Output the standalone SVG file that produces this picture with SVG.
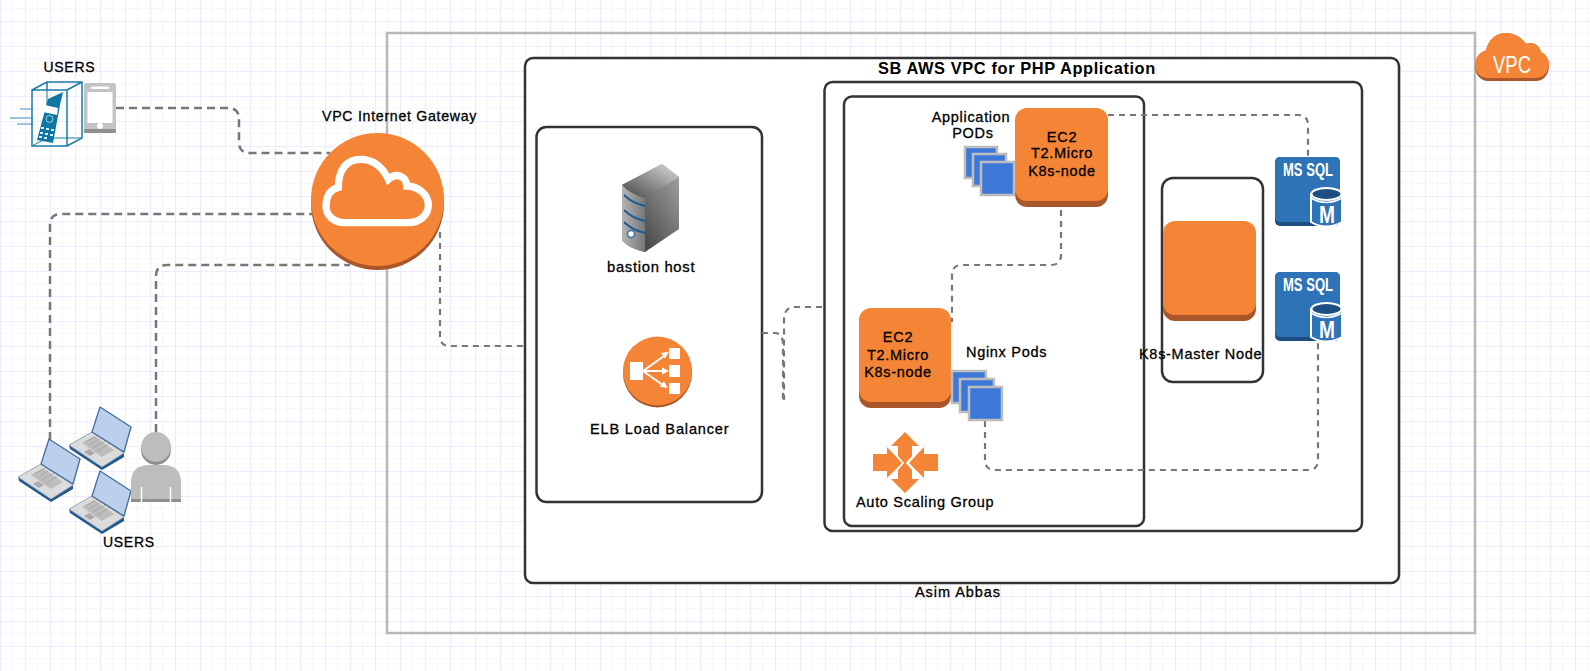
<svg xmlns="http://www.w3.org/2000/svg" width="1590" height="671" viewBox="0 0 1590 671">
<style>
.t{font-family:"Liberation Sans",Arial,sans-serif;font-size:14.500px;letter-spacing:.7px;fill:#000;stroke:#000;stroke-width:.3px}
.u{font-size:14px}
.g{font-size:14.200px}
.b{font-size:14.800px}
.m{text-anchor:middle}
.box{fill:#fff;stroke:#333;stroke-width:2.500}
.open{fill:none;stroke:#333;stroke-width:2.500}
.c1{fill:none;stroke:#777;stroke-width:2.500;stroke-dasharray:8 5}
.c2{fill:none;stroke:#777;stroke-width:2.200;stroke-dasharray:6 5}
.o{fill:#f58536}.os{fill:#a9572a}
.pod{fill:#3c78d8;stroke:#bcbcbc;stroke-width:2.500}
.sq{fill:#2e73b8}.sqs{fill:#1e4f82}
.w{font-family:"Liberation Sans",Arial,sans-serif;font-weight:bold;fill:#fff}
</style>
<defs>
<pattern id="grid" width="25" height="25" patternUnits="userSpaceOnUse" patternTransform="translate(0 21)">
<path d="M12.500 0V25M0 12.500H25" stroke="#f7f6ff" stroke-width="1.200" fill="none"/>
<path d="M.5 0V25M0 .5H25" stroke="#eeebff" stroke-width="1.200" fill="none"/>
</pattern>
<linearGradient id="srvF" x1="0" x2="1" y1="0" y2="0"><stop offset="0" stop-color="#b5b5b5"/><stop offset="1" stop-color="#777"/></linearGradient>
<linearGradient id="srvS" x1="0" x2="1" y1="1" y2="0"><stop offset="0" stop-color="#2c2c2c"/><stop offset="1" stop-color="#a8a8a8"/></linearGradient>
<linearGradient id="srvT" x1="0" x2="1" y1="1" y2="0"><stop offset="0" stop-color="#444"/><stop offset="1" stop-color="#ddd"/></linearGradient>
<g id="laptop">
<path d="M0 38 23 25 55 46V50L33 63 1 42Z" fill="#1f5a8c"/>
<path d="M0 38 23 25 55 46 33 60Z" fill="#dcdcdc" stroke="#9aa5ae" stroke-width=".8"/>
<path d="M13 36 25 29 45 43 33 50Z" fill="#bdbdbd"/>
<path d="M16 35 28 29M20 38 32 31M24 41 36 34M28 44 40 37" stroke="#8f8f8f" stroke-width=".8" stroke-dasharray="1.500 1"/>
<path d="M15 45 20 42 26 46 21 49Z" fill="#ababab"/>
<path d="M31 0 62 20 55 45 23 25Z" fill="#bccfec" stroke="#3f6f9f" stroke-width="1.300" stroke-linejoin="round"/>
</g>
<g id="sql">
<rect x="0" y="0" width="65" height="69" rx="5" class="sqs"/>
<rect x="0" y="0" width="65" height="65" rx="5" class="sq"/>
<text x="33" y="19" text-anchor="middle" class="w" font-size="18" textLength="50" lengthAdjust="spacingAndGlyphs">MS SQL</text>
<path d="M36 37V65Q51 74 67 65V37Z" fill="#2e73b8" stroke="#fff" stroke-width="2"/>
<ellipse cx="51.500" cy="37" rx="15" ry="6" fill="#1e4f82" stroke="#fff" stroke-width="2"/>
<path d="M36 41Q51 50 67 41" fill="none" stroke="#fff" stroke-width="1.500"/>
<text x="52" y="66" text-anchor="middle" class="w" font-size="23" textLength="16" lengthAdjust="spacingAndGlyphs">M</text>
</g>
<path id="arrowhead" d="M0 0 7 3.500 0 7Z" fill="#fff"/>
</defs>
<rect width="1590" height="671" fill="#fff"/>
<rect width="1590" height="671" fill="url(#grid)"/>

<g id="vpc-frame"><rect x="387" y="33" width="1088" height="600" fill="none" stroke="#b8b8b8" stroke-width="2.500"/></g>
<g id="vpc-main"><rect x="525" y="58" width="874" height="525" rx="8" class="box"/></g>
<g id="elb-box"><rect x="536.500" y="127" width="225.500" height="375" rx="10" class="box"/></g>
<g id="k8s-box"><rect x="824.500" y="82" width="537.500" height="449" rx="8" class="open"/></g>
<g id="asg-box"><rect x="844" y="96.500" width="300" height="429.500" rx="8" class="open"/></g>
<g id="master-box"><rect x="1162" y="178" width="101" height="204" rx="11" class="open"/></g>

<g id="connectors">
<path class="c1" d="M116 108H228Q239 108 239 119V142Q239 153 250 153H330"/>
<path class="c1" d="M50 440V225Q50 214 61 214H314"/>
<path class="c1" d="M156 432V276Q156 265 167 265H350"/>
<path class="c2" d="M440 232V336Q440 346 450 346H524"/>
<path class="c2" d="M762 333H775Q783 333 783 345V400"/>
<path class="c2" d="M822 307H795Q784 307 784 320V400"/>
<path class="c2" d="M1108 115H1298Q1308 115 1308 125V157"/>
<path class="c2" d="M1061 210V255Q1061 265 1051 265H962Q952 265 952 275V322"/>
<path class="c2" d="M985 421V460Q985 470 995 470H1308Q1318 470 1318 460V343"/>
</g>

<g id="users-phone">
<g fill="none" stroke="#7fb2cf" stroke-width="1.500"><path d="M20 109H33M10 118H33M17 124H33"/></g>
<path d="M32 90 47 82H82V138L67 146H32ZM32 90H67V146M67 90 82 82M47 82V90" fill="none" stroke="#1a7ba8" stroke-width="1.500"/>
<path d="M32 146 47 138H82M47 90V138" fill="none" stroke="#1a7ba8" stroke-width="1"/>
<path d="M48 99 61 93 63 92 60 105 53 143 37 140Z" fill="#0f76a3"/>
<path d="M45 105 58 108 57 115 43 112Z" fill="#fff"/>
<circle cx="49.500" cy="119" r="3.500" fill="none" stroke="#9fd0e6"/>
<g fill="#d8ecf6"><rect x="41" y="127" width="3" height="2"/><rect x="46" y="128" width="3" height="2"/><rect x="51" y="129" width="3" height="2"/><rect x="40" y="132" width="3" height="2"/><rect x="45" y="133" width="3" height="2"/><rect x="50" y="134" width="3" height="2"/><rect x="39" y="136" width="3" height="2"/><rect x="44" y="137" width="3" height="2"/></g>
<rect x="84" y="83" width="32" height="50" rx="3" fill="#c4c4c4"/>
<rect x="84" y="129" width="32" height="4" rx="1" fill="#8f8f8f"/>
<rect x="87.500" y="92" width="25" height="31" fill="#fff"/>
<rect x="91" y="86.500" width="18" height="2.500" rx="1.200" fill="#fff"/>
<circle cx="100" cy="126" r="3" fill="#fff"/>
<text class="t u" x="43.500" y="72">USERS</text>
</g>

<g id="users-laptops">
<use href="#laptop" x="69" y="407"/>
<use href="#laptop" x="18" y="439"/>
<use href="#laptop" x="69" y="471"/>
<circle cx="156" cy="450" r="15" fill="#8e8e8e"/>
<circle cx="156" cy="447" r="15" fill="#bdbdbd"/>
<path d="M131 502V483Q131 465 149 465H163Q181 465 181 483V502Z" fill="#bdbdbd"/>
<rect x="131" y="499" width="50" height="3" fill="#8e8e8e"/>
<path d="M141.500 487V502M170.500 487V502" stroke="#fff" stroke-width="1.500"/>
<text class="t u" x="103" y="547">USERS</text>
</g>

<g id="internet-gateway">
<circle cx="377.500" cy="203.500" r="66.500" class="os"/>
<circle cx="377.500" cy="199.500" r="66.500" class="o"/>
<path transform="translate(290 100) scale(.3333)" d="M165 368H355C395 368 415 340 415 315C415 285 385 258 350 258C350 230 320 215 295 238C275 195 245 178 210 178C170 178 145 210 145 262C120 268 108 290 108 318C108 345 130 368 165 368Z" fill="none" stroke="#fff" stroke-width="22"/>
<text class="t g" x="322" y="121">VPC Internet Gateway</text>
</g>

<g id="bastion-host">
<path d="M622 185 662 164 679 177V229L645 252Q628 248 622 240Z" fill="url(#srvS)"/>
<path d="M622 185 662 164 679 177 645 198Q630 194 622 185Z" fill="url(#srvT)"/>
<path d="M622 185Q630 194 645 198V252Q628 248 622 240Z" fill="url(#srvF)"/>
<path d="M624 195Q632 203 645 206M624 210Q632 218 645 221M624 222Q632 230 645 233" fill="none" stroke="#1d5a94" stroke-width="1.800"/>
<circle cx="631" cy="234" r="3.500" fill="#fff" stroke="#3f6f9f" stroke-width="1.500"/>
<text class="t b" x="607" y="272">bastion host</text>
</g>

<g id="elb">
<circle cx="657.500" cy="373" r="34.500" class="os"/>
<circle cx="657.500" cy="371" r="34.500" class="o"/>
<rect x="630" y="362" width="13" height="18" fill="#fff"/>
<rect x="669" y="348" width="11" height="11" fill="#fff"/>
<rect x="669" y="365" width="11" height="12" fill="#fff"/>
<rect x="669" y="383" width="11" height="11" fill="#fff"/>
<path d="M643 371 664 356M643 371H664M643 371 664 386" stroke="#fff" stroke-width="2"/>
<use href="#arrowhead" transform="translate(661 350) rotate(-35 3.500 3.500) translate(1 1)"/>
<use href="#arrowhead" transform="translate(662 367.500)"/>
<use href="#arrowhead" transform="translate(661 381) rotate(35 3.500 3.500) translate(1 1)"/>
<text class="t" x="590" y="434" style="letter-spacing:.85px">ELB Load Balancer</text>
</g>

<g id="ec2-top">
<rect x="1015" y="114" width="93" height="93" rx="12" class="os"/>
<rect x="1015" y="108" width="93" height="93" rx="12" class="o"/>
<text class="t m" x="1062" y="142">EC2</text>
<text class="t m" x="1062" y="158">T2.Micro</text>
<text class="t m" x="1062" y="176">K8s-node</text>
</g>
<g id="app-pods">
<rect x="965" y="147" width="32" height="31" class="pod"/>
<rect x="973" y="154" width="33" height="32" class="pod"/>
<rect x="981" y="162" width="33" height="33" class="pod"/>
<text class="t m" x="971" y="122">Application</text>
<text class="t m" x="973" y="138">PODs</text>
</g>

<g id="ec2-bottom">
<rect x="859" y="314" width="92" height="94" rx="12" class="os"/>
<rect x="859" y="308" width="92" height="94" rx="12" class="o"/>
<text class="t m" x="898" y="342">EC2</text>
<text class="t m" x="898" y="360">T2.Micro</text>
<text class="t m" x="898" y="377">K8s-node</text>
</g>
<g id="nginx-pods">
<rect x="952" y="371" width="34" height="32" class="pod"/>
<rect x="960" y="379" width="34" height="33" class="pod"/>
<rect x="969" y="387" width="33" height="33" class="pod"/>
<text class="t" x="966" y="357">Nginx Pods</text>
</g>

<g id="auto-scaling">
<g class="o">
<path d="M905 432 919 446H912V456L905 464 898 456V446H891Z"/>
<path d="M905 493 919 479H912V470L905 462 898 470V479H891Z"/>
<path d="M873 454H887V447L902 463 887 478V471H873Z"/>
<path d="M938 454H924V447L909 463 924 478V471H938Z"/>
</g>
<text class="t" x="856" y="507">Auto Scaling Group</text>
</g>

<g id="k8s-master">
<rect x="1163" y="227" width="93" height="94" rx="12" class="os"/>
<rect x="1163" y="221" width="93" height="94" rx="12" class="o"/>
<text class="t" x="1139" y="359">K8s-Master Node</text>
</g>

<g id="ms-sql-1"><use href="#sql" x="1275" y="157"/></g>
<g id="ms-sql-2"><use href="#sql" x="1275" y="272"/></g>

<g id="vpc-badge">
<path d="M1488 81C1480 81 1475 74 1475 66C1475 58 1480 53 1486 51C1488 40 1496 33 1506 33C1515 33 1522 38 1526 44C1533 41 1539 45 1541 52C1546 55 1549 60 1549 66C1549 75 1543 81 1536 81Z" class="os"/>
<path d="M1488 78C1480 78 1475 72 1475 64C1475 57 1480 52 1486 50C1488 40 1496 33 1506 33C1515 33 1522 38 1526 44C1533 41 1539 45 1541 52C1546 54 1549 59 1549 64C1549 72 1543 78 1536 78Z" class="o"/>
<text x="1493" y="73" font-family="'Liberation Sans',Arial,sans-serif" font-size="24" fill="#fff" textLength="38" lengthAdjust="spacingAndGlyphs">VPC</text>
</g>

<g id="labels">
<text class="t" x="878" y="74" style="font-size:16.400px;font-weight:bold;stroke-width:0;letter-spacing:.6px">SB AWS VPC for PHP Application</text>
<text class="t" x="915" y="597" style="letter-spacing:.95px">Asim Abbas</text>
</g>
</svg>
